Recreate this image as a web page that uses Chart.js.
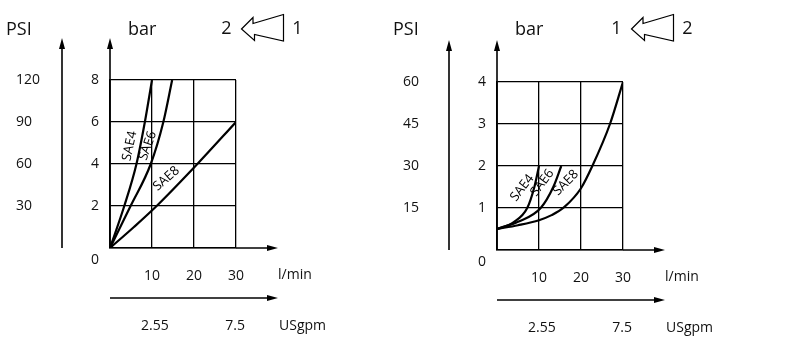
<!DOCTYPE html>
<html><head><meta charset="utf-8">
<script src="https://cdn.jsdelivr.net/npm/chart.js@4.4.0/dist/chart.umd.min.js"></script>
<style>
html,body{margin:0;padding:0;background:#fff;width:800px;height:356px;overflow:hidden}
canvas{position:absolute;top:0}
#c1{left:0}
#c2{left:387px}
</style></head><body>
<canvas id="c1" width="400" height="356"></canvas>
<canvas id="c2" width="413" height="356"></canvas>
<script>
// ---------- data ----------
const flowTicks = [10, 20, 30];              // l/min
const usgpmLabels = ['2.55', '7.5'];         // USgpm tick labels
const usgpmAtFlow = [10.7, 29.8];            // where they sit on the l/min scale

// chart 1 (flow 2 <- 1)
const c1BarTicks = [2, 4, 6, 8];
const c1PsiLabels = ['30', '60', '90', '120'];
const c1Sae4Flow = [0, 3.4, 6.3, 8.3, 10];
const c1Sae4Bar  = [0, 2, 4, 6, 8];
const c1Sae6Flow = [0, 4.9, 9.7, 12.7, 14.8];
const c1Sae6Bar  = [0, 2, 4, 6, 8];
const c1Sae8Flow = [0, 5.7, 11.1, 20.8, 30];
const c1Sae8Bar  = [0, 1, 2, 4, 6];

// chart 2 (flow 1 <- 2)
const c2BarTicks = [1, 2, 3, 4];
const c2PsiLabels = ['15', '30', '45', '60'];
const c2Sae4Flow = [0, 3.9, 7.2, 8.9, 10];
const c2Sae4Bar  = [0.5, 0.66, 1.0, 1.5, 2.0];
const c2Sae6Flow = [0, 5, 10.4, 13.4, 15.3];
const c2Sae6Bar  = [0.5, 0.67, 1.0, 1.5, 2.0];
const c2Sae8Flow = [0, 5, 10, 13, 16, 20, 22.7, 26.9, 30];
const c2Sae8Bar  = [0.5, 0.59, 0.71, 0.83, 1.02, 1.47, 2.0, 3.0, 4.0];

const seriesNames = ['SAE4', 'SAE6', 'SAE8'];

// ---------- drawing ----------
const FONT = '"Open Sans", "Noto Sans", sans-serif';
const INK = '#111';

function arrowHead(ctx, x, y, dir) {
  ctx.beginPath();
  if (dir === 'up') { ctx.moveTo(x, y); ctx.lineTo(x - 3, y + 11); ctx.lineTo(x + 3, y + 11); }
  else { ctx.moveTo(x, y); ctx.lineTo(x - 11, y - 3); ctx.lineTo(x - 11, y + 3); }
  ctx.closePath(); ctx.fill();
}
function line(ctx, x1, y1, x2, y2) {
  ctx.beginPath(); ctx.moveTo(x1, y1); ctx.lineTo(x2, y2); ctx.stroke();
}

function decor(cfg) {
  return {
    id: 'decor',
    afterDraw(chart) {
      const ctx = chart.ctx;
      const xs = chart.scales.x, ys = chart.scales.y;
      const ca = chart.chartArea;
      const L = ca.left, B = ca.bottom;
      ctx.save();
      ctx.strokeStyle = '#000'; ctx.fillStyle = '#000'; ctx.lineWidth = 1.6;
      // axis arrows
      line(ctx, L, B, L, cfg.arrowTop + 9); arrowHead(ctx, L, cfg.arrowTop, 'up');
      line(ctx, ca.right, B, L + 160, B); arrowHead(ctx, L + 168, B, 'right');
      line(ctx, L - 48, B, L - 48, cfg.arrowTop + 9); arrowHead(ctx, L - 48, cfg.arrowTop, 'up');
      const y2 = B + 50;
      line(ctx, L, y2, L + 160, y2); arrowHead(ctx, L + 168, y2, 'right');

      ctx.fillStyle = INK;
      ctx.textBaseline = 'middle';
      // titles
      ctx.font = '18px ' + FONT; ctx.textAlign = 'left';
      ctx.fillText('PSI', L - 104, 30);
      ctx.fillText('bar', L + 18, 30);
      ctx.textAlign = 'center';
      ctx.fillText(cfg.flowFrom, cfg.tipX - 15, 29);
      ctx.fillText(cfg.flowTo, cfg.tipX + 56, 29);
      // outline arrow symbol
      const tx = cfg.tipX, ty = 29;
      ctx.lineWidth = 1.2;
      ctx.beginPath();
      ctx.moveTo(tx, ty);
      ctx.lineTo(tx + 11.5, ty - 11.5);
      ctx.lineTo(tx + 11.5, ty - 5.5);
      ctx.lineTo(tx + 42, ty - 14.5);
      ctx.lineTo(tx + 42, ty + 12);
      ctx.lineTo(tx + 13, ty + 5.5);
      ctx.lineTo(tx + 13, ty + 11.5);
      ctx.closePath();
      ctx.stroke();

      // PSI labels
      ctx.font = '14px ' + FONT; ctx.textAlign = 'left';
      cfg.barTicks.forEach((b, i) => ctx.fillText(cfg.psi[i], L - 94, ys.getPixelForValue(b)));
      ctx.textAlign = 'center';
      ctx.fillText('0', L - 15, B + 12);
      ctx.textAlign = 'left';
      ctx.fillText('l/min', L + 168, B + 27);
      ctx.fillText('USgpm', L + 169, B + 78);
      ctx.textAlign = 'center';
      usgpmLabels.forEach((t, i) => ctx.fillText(t, xs.getPixelForValue(usgpmAtFlow[i]), B + 78));

      // curve labels
      ctx.font = '13px ' + FONT;
      ctx.fillStyle = '#000';
      cfg.curveLabels.forEach(c => {
        ctx.save();
        ctx.translate(xs.getPixelForValue(c.x), ys.getPixelForValue(c.y));
        ctx.rotate(c.rot * Math.PI / 180);
        ctx.fillText(c.t, 0, 0);
        ctx.restore();
      });
      ctx.restore();
    }
  };
}

function makeChart(canvas, cfg) {
  const datasets = cfg.series.map((s, k) => ({
    label: seriesNames[k],
    data: s[0].map((x, i) => ({ x: x, y: s[1][i] })),
    showLine: true, borderColor: '#000', borderWidth: 2.2, pointRadius: 0,
    cubicInterpolationMode: 'monotone', fill: false
  }));
  const tickFont = { family: FONT, size: 14 };
  return new Chart(canvas, {
    type: 'scatter',
    data: { datasets },
    options: {
      responsive: false, animation: false, devicePixelRatio: 1,
      layout: { padding: { left: 0, top: cfg.T, right: canvas.width - cfg.R, bottom: 0 } },
      plugins: { legend: { display: false }, tooltip: { enabled: false } },
      scales: {
        x: {
          type: 'linear', min: 0, max: 30,
          afterBuildTicks: s => { s.ticks = [0].concat(flowTicks).map(v => ({ value: v })); },
          afterFit: s => { s.height = canvas.height - cfg.B; },
          grid: { color: '#000', lineWidth: 1.3, drawTicks: false },
          border: { color: '#000', width: 1.6 },
          ticks: { padding: 20, color: INK, font: tickFont, maxRotation: 0, autoSkip: false,
                   callback: v => v === 0 ? '' : String(v) }
        },
        y: {
          type: 'linear', min: 0, max: cfg.yMax,
          afterBuildTicks: s => { s.ticks = [0].concat(cfg.barTicks).map(v => ({ value: v })); },
          afterFit: s => { s.width = cfg.L; },
          grid: { color: '#000', lineWidth: 1.3, drawTicks: false },
          border: { color: '#000', width: 1.6 },
          ticks: { padding: 11, color: INK, font: tickFont, autoSkip: false,
                   callback: v => v === 0 ? '' : String(v) }
        }
      }
    },
    plugins: [decor(cfg)]
  });
}

function init() {
  makeChart(document.getElementById('c1'), {
    L: 110, R: 236, T: 80, B: 248, yMax: 8, arrowTop: 38,
    barTicks: c1BarTicks, psi: c1PsiLabels, tipX: 241.5, flowFrom: '2', flowTo: '1',
    series: [[c1Sae4Flow, c1Sae4Bar], [c1Sae6Flow, c1Sae6Bar], [c1Sae8Flow, c1Sae8Bar]],
    curveLabels: [
      { t: 'SAE4', x: 4.7, y: 4.86, rot: -78 },
      { t: 'SAE6', x: 9.0, y: 4.87, rot: -70 },
      { t: 'SAE8', x: 13.4, y: 3.3, rot: -41 }
    ]
  });
  makeChart(document.getElementById('c2'), {
    L: 110, R: 236, T: 82, B: 250, yMax: 4, arrowTop: 40,
    barTicks: c2BarTicks, psi: c2PsiLabels, tipX: 244.5, flowFrom: '1', flowTo: '2',
    series: [[c2Sae4Flow, c2Sae4Bar], [c2Sae6Flow, c2Sae6Bar], [c2Sae8Flow, c2Sae8Bar]],
    curveLabels: [
      { t: 'SAE4', x: 6.0, y: 1.48, rot: -52 },
      { t: 'SAE6', x: 10.8, y: 1.6, rot: -53 },
      { t: 'SAE8', x: 16.4, y: 1.6, rot: -45 }
    ]
  });
}
const fl = [document.fonts.load('14px "Open Sans"'), document.fonts.load('18px "Open Sans"')];
Promise.all(fl).then(init, init);
</script>
</body></html>
